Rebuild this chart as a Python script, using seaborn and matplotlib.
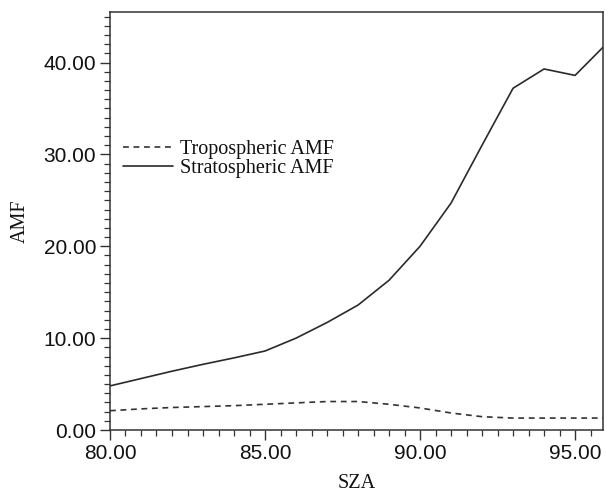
import matplotlib
matplotlib.use("Agg")
import matplotlib.pyplot as plt
import seaborn as sns
import pandas as pd
import numpy as np
from matplotlib.ticker import MultipleLocator, FormatStrFormatter

sza = [80, 81, 82, 83, 84, 85, 86, 87, 88, 89, 90, 91, 92, 93, 94, 95, 96]
trop_amf = [2.1, 2.3, 2.45, 2.55, 2.65, 2.8, 2.95, 3.1, 3.1, 2.8, 2.4, 1.85, 1.45, 1.3, 1.3, 1.3, 1.3]
strat_amf = [4.8, 5.6, 6.4, 7.15, 7.85, 8.6, 10.0, 11.7, 13.6, 16.3, 20.0, 24.7, 31.0, 37.2, 39.3, 38.6, 42.0]
series_names = ["Tropospheric AMF", "Stratospheric AMF"]
x_ticks = [80, 85, 90, 95]
y_ticks = [0, 10, 20, 30, 40]

df = pd.DataFrame({
    "SZA": sza * 2,
    "AMF": trop_amf + strat_amf,
    "series": [series_names[0]] * len(sza) + [series_names[1]] * len(sza),
})

sns.set_style("ticks")
plt.rcParams["font.family"] = ["Liberation Sans", "DejaVu Sans"]

fig = plt.figure(figsize=(6.06, 4.92), dpi=100)
ax = fig.add_axes([0.1815, 0.126, 0.8135, 0.8496])

sns.lineplot(data=df, x="SZA", y="AMF", hue="series", style="series",
             palette={series_names[0]: "#333333", series_names[1]: "#2a2a2a"},
             dashes={series_names[0]: (3.5, 2.8), series_names[1]: ""},
             linewidth=1.2, ax=ax, legend=True)

ax.set_xlim(80, 95.9)
ax.set_ylim(0, 45.5)
ax.set_xticks(x_ticks)
ax.set_yticks(y_ticks)
ax.xaxis.set_minor_locator(MultipleLocator(0.5))
ax.yaxis.set_minor_locator(MultipleLocator(1))
ax.xaxis.set_major_formatter(FormatStrFormatter("%.2f"))
ax.yaxis.set_major_formatter(FormatStrFormatter("%.2f"))
ax.tick_params(axis="both", which="major", direction="out", length=7, width=1.0,
               labelsize=15, color="#333333", labelcolor="#111111", pad=3)
ax.tick_params(axis="both", which="minor", direction="out", length=4, width=0.9,
               color="#333333")
for side in ["top", "right", "left", "bottom"]:
    ax.spines[side].set_visible(True)
    ax.spines[side].set_color("#333333")
    ax.spines[side].set_linewidth(1.1)

ax.set_xlabel("SZA", fontsize=14.5, family=["Liberation Serif"], color="#111111", labelpad=8)
ax.set_ylabel("AMF", fontsize=14.5, family=["Liberation Serif"], color="#111111", labelpad=10)

handles, labels = ax.get_legend_handles_labels()
leg = ax.legend(handles=handles, labels=labels, loc="upper left",
                bbox_to_anchor=(0.026, 0.695), frameon=False,
                prop={"family": "Liberation Serif", "size": 14.5},
                handlelength=2.5, handletextpad=0.35, labelspacing=0.0,
                borderpad=0, borderaxespad=0)
for t in leg.get_texts():
    t.set_color("#111111")

fig.savefig("out.png", dpi=100)
